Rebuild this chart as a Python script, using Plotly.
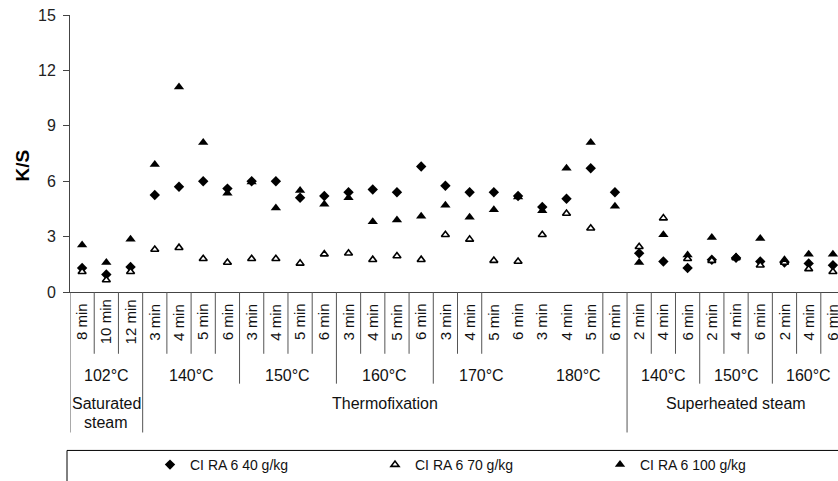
import plotly.graph_objects as go

# ---------------- data ----------------
minutes = (["8 min", "10 min", "12 min"]
           + ["3 min", "4 min", "5 min", "6 min"] * 5
           + ["2 min", "4 min", "6 min"] * 3)
temps = ["102°C", "140°C", "150°C", "160°C", "170°C", "180°C", "140°C", "150°C", "160°C"]
temp_sizes = [3, 4, 4, 4, 4, 4, 3, 3, 3]
processes = ["Saturated steam", "Thermofixation", "Superheated steam"]
process_sizes = [3, 20, 9]

ks_40 = [1.30, 0.95, 1.35,
         5.25, 5.70, 6.00, 5.60,
         6.00, 6.00, 5.10, 5.20,
         5.40, 5.55, 5.40, 6.80,
         5.75, 5.40, 5.40, 5.20,
         4.60, 5.05, 6.70, 5.40,
         2.10, 1.65, 1.30,
         1.75, 1.85, 1.65,
         1.60, 1.55, 1.45]
ks_70 = [1.10, 0.65, 1.10,
         2.30, 2.40, 1.80, 1.60,
         1.80, 1.80, 1.55, 2.05,
         2.10, 1.75, 1.95, 1.75,
         3.10, 2.85, 1.70, 1.65,
         3.10, 4.25, 3.45, None,
         2.45, 4.00, 1.80,
         1.70, 1.85, 1.45,
         1.60, 1.25, 1.10]
ks_100 = [2.55, 1.60, 2.85,
          6.90, 11.10, 8.10, 5.35,
          5.95, 4.55, 5.50, 4.75,
          5.10, 3.80, 3.90, 4.10,
          4.70, 4.05, 4.45, 5.15,
          4.40, 6.70, 8.10, 4.65,
          1.60, 3.10, 2.00,
          2.95, 1.90, 2.90,
          1.75, 2.05, 2.05]
series_names = ["CI RA 6 40 g/kg", "CI RA 6 70 g/kg", "CI RA 6 100 g/kg"]
y_ticks = [0, 3, 6, 9, 12, 15]
# minute separators that are absent in the original (inside the 170/180 °C block)
skip_minute_bounds = [17.5, 18.5, 19.5, 20.5]
skip_temp_bounds = [18.5]

# ---------------- figure ----------------
FONT = "Liberation Sans, Arial, sans-serif"
x = list(range(len(minutes)))
fig = go.Figure()
fig.add_trace(go.Scatter(x=x, y=ks_40, mode="markers", name=series_names[0],
                         marker=dict(symbol="diamond", size=8, color="black")))
fig.add_trace(go.Scatter(x=x, y=ks_70, mode="markers", name=series_names[1],
                         marker=dict(symbol="triangle-up", size=7, color="white",
                                     line=dict(color="black", width=1.6))))
fig.add_trace(go.Scatter(x=x, y=ks_100, mode="markers", name=series_names[2],
                         marker=dict(symbol="triangle-up", size=9, color="black")))

PLOT_TOP, PLOT_BOT = 15, 293
PH = PLOT_BOT - PLOT_TOP


def py(px):
    return (PLOT_BOT - px) / PH


LINE = "#555555"
shapes = []
# cumulative boundaries
temp_bounds = []
c = -0.5
for s in temp_sizes:
    c += s
    temp_bounds.append(c)
proc_bounds = [-0.5]
c = -0.5
for s in process_sizes:
    c += s
    proc_bounds.append(c)
proc_bounds = proc_bounds[:-1]

for k in range(1, len(minutes)):
    b = k - 0.5
    if b in skip_minute_bounds or b in temp_bounds or b in proc_bounds:
        continue
    shapes.append(dict(type="line", xref="x", yref="paper", x0=b, x1=b,
                       y0=0, y1=py(355), line=dict(color=LINE, width=1)))
for b in temp_bounds[:-1]:
    if b in proc_bounds or b in skip_temp_bounds:
        continue
    shapes.append(dict(type="line", xref="x", yref="paper", x0=b, x1=b,
                       y0=0, y1=py(385), line=dict(color=LINE, width=1)))
for b in proc_bounds:
    shapes.append(dict(type="line", xref="x", yref="paper", x0=b, x1=b,
                       y0=0, y1=py(434), line=dict(color=LINE, width=1)))
# legend frame
shapes.append(dict(type="rect", xref="paper", yref="paper",
                   x0=-3 / 768, x1=1.02, y0=py(452), y1=py(500),
                   line=dict(color="black", width=1)))

ann = []
for i, m in enumerate(minutes):
    ann.append(dict(x=i, y=py(323), xref="x", yref="paper", text=m, showarrow=False,
                    textangle=-90, font=dict(family=FONT, size=15, color="#111"),
                    xanchor="center", yanchor="middle"))
start = 0
for t, s in zip(temps, temp_sizes):
    ann.append(dict(x=start + (s - 1) / 2, y=py(377), xref="x", yref="paper", text=t,
                    showarrow=False, font=dict(family=FONT, size=16, color="#111"),
                    xanchor="center", yanchor="middle"))
    start += s
start = 0
for p, s in zip(processes, process_sizes):
    cx = start + (s - 1) / 2
    if p == "Saturated steam":
        ann.append(dict(x=cx, y=py(405), xref="x", yref="paper", text="Saturated",
                        showarrow=False, font=dict(family=FONT, size=16, color="#111"),
                        xanchor="center", yanchor="middle"))
        ann.append(dict(x=cx, y=py(424), xref="x", yref="paper", text="steam",
                        showarrow=False, font=dict(family=FONT, size=16, color="#111"),
                        xanchor="center", yanchor="middle"))
    else:
        ann.append(dict(x=cx, y=py(405), xref="x", yref="paper", text=p,
                        showarrow=False, font=dict(family=FONT, size=16, color="#111"),
                        xanchor="center", yanchor="middle"))
    start += s
# y-axis title
ann.append(dict(x=(22 - 70) / 768, y=py(166), xref="paper", yref="paper",
                text="<b>K/S</b>", showarrow=False, textangle=-90,
                font=dict(family=FONT, size=19, color="black"),
                xanchor="center", yanchor="middle"))

fig.update_layout(
    width=838, height=481,
    margin=dict(l=70, r=0, t=PLOT_TOP, b=481 - PLOT_BOT),
    paper_bgcolor="white", plot_bgcolor="white",
    font=dict(family=FONT, color="#111"),
    xaxis=dict(range=[-0.5, 31.21], showline=True, linecolor="#444", linewidth=1,
               showticklabels=False, ticks="", showgrid=False, zeroline=False),
    yaxis=dict(range=[0, 15], tickvals=y_ticks, showline=True, linecolor="#444",
               linewidth=1, ticks="outside", ticklen=6, tickcolor="#444",
               tickfont=dict(family=FONT, size=16, color="#222"),
               ticklabelstandoff=4, showgrid=False, zeroline=False),
    showlegend=True,
    legend=dict(orientation="h", x=(150 - 70) / 768, xanchor="left",
                y=py(467), yanchor="middle", font=dict(family=FONT, size=14, color="#111"),
                entrywidth=180, entrywidthmode="pixels", bgcolor="rgba(0,0,0,0)",
                traceorder="normal", itemsizing="trace"),
    shapes=shapes, annotations=ann,
)
fig.write_html("out.html")
